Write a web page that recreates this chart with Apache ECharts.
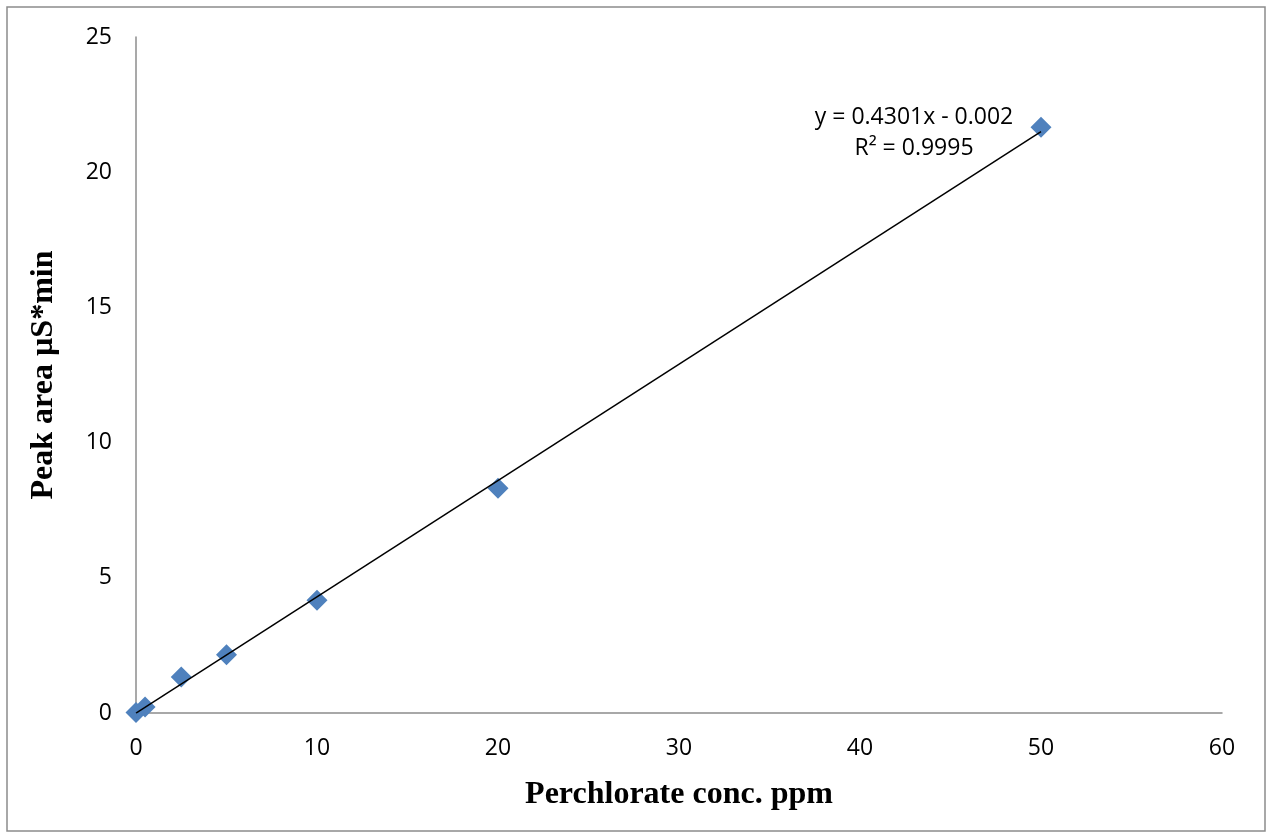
<!DOCTYPE html>
<html><head><meta charset="utf-8">
<script src="https://cdn.jsdelivr.net/npm/echarts@6/dist/echarts.min.js"></script>
<style>html,body{margin:0;padding:0;background:#fff}#c{width:1272px;height:838px}</style>
</head><body><div id="c"></div>
<script>
const concPpm = [0, 0.5, 2.5, 5, 10, 20, 50];
const peakArea = [0.02, 0.22, 1.33, 2.15, 4.17, 8.31, 21.66];
const trendX = [0, 50];
const trendY = [-0.002, 21.503];
const xTicks = [0, 10, 20, 30, 40, 50, 60];
const yTicks = [0, 5, 10, 15, 20, 25];
const eqLines = ['y = 0.4301x - 0.002', 'R² = 0.9995'];

const chart = echarts.init(document.getElementById('c'));
const labelFont = {fontFamily: 'Open Sans', fontSize: 23, color: '#000'};
const titleFont = {fontFamily: 'Liberation Serif', fontWeight: 'bold', fontSize: 32, color: '#000'};
chart.setOption({
  animation: false,
  grid: {left: 136, right: 50, top: 37, bottom: 125},
  xAxis: {type: 'value', min: xTicks[0], max: xTicks[xTicks.length-1], interval: 10,
    name: 'Perchlorate conc. ppm', nameLocation: 'middle', nameGap: 66,
    nameTextStyle: titleFont,
    axisLine: {lineStyle: {color: '#8c8c8c', width: 1.5}}, axisTick: {show: false},
    splitLine: {show: false}, axisLabel: Object.assign({margin: 24}, labelFont)},
  yAxis: {type: 'value', min: yTicks[0], max: yTicks[yTicks.length-1], interval: 5,
    name: 'Peak area µS*min', nameLocation: 'middle', nameGap: 76,
    nameTextStyle: titleFont,
    axisLine: {show: true, lineStyle: {color: '#8c8c8c', width: 1.5}}, axisTick: {show: false},
    splitLine: {show: false}, axisLabel: Object.assign({margin: 24}, labelFont)},
  series: [
    {type: 'line', data: trendX.map((x, i) => [x, trendY[i]]), symbol: 'none',
     lineStyle: {color: '#000', width: 1.5}, z: 3, silent: true},
    {type: 'scatter', data: concPpm.map((x, i) => [x, peakArea[i]]), symbol: 'diamond',
     symbolSize: [21, 21], itemStyle: {color: '#4F81BD', opacity: 1}, z: 2}
  ],
  graphic: [
    {type: 'rect', shape: {x: 7, y: 7, width: 1258, height: 824}, style: {fill: 'none', stroke: '#8c8c8c', lineWidth: 1.5}, silent: true},
    {type: 'text', x: 914, y: 117, style: {text: eqLines[0], font: '23px "Open Sans"', fill: '#000', align: 'center', verticalAlign: 'middle'}},
    {type: 'text', x: 914, y: 148, style: {text: eqLines[1], font: '23px "Open Sans"', fill: '#000', align: 'center', verticalAlign: 'middle'}}
  ]
});
</script></body></html>
